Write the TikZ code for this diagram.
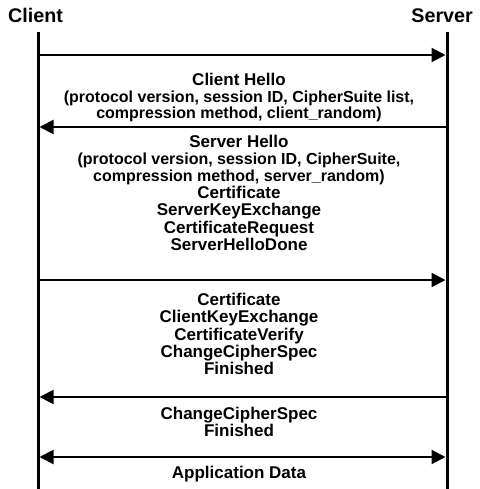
\documentclass[tikz,border=0pt]{standalone}
\usepackage{fontspec}
\setmainfont{Liberation Sans}
\usetikzlibrary{arrows.meta}
\begin{document}
\begin{tikzpicture}[x=1pt,y=-1pt,
  life/.style={line width=3pt},
  msg/.style={line width=2pt,-{Triangle[length=14pt,width=14pt]},shorten >=1.5pt,shorten <=1.5pt},
  msgboth/.style={line width=2pt,{Triangle[length=14pt,width=14pt]}-{Triangle[length=14pt,width=14pt]},shorten >=1.5pt,shorten <=1.5pt},
  msgtext/.style={align=center,font=\bfseries\fontsize{17}{17.4}\selectfont,inner sep=0pt},
  actor/.style={font=\bfseries\fontsize{19.7}{20}\selectfont,inner sep=0pt}]
\newcommand\parfont{\fontsize{16}{16}\selectfont}
\useasboundingbox (0,0) rectangle (479,489);
\node[actor,anchor=west] (client) at (8,15) {Client};
\node[actor,anchor=east] (server) at (473,16) {Server};
\coordinate (ct) at (38,32); \coordinate (cb) at (38,489);
\coordinate (st) at (447,32); \coordinate (sb) at (447,489);
\draw[life] (ct) -- (cb);
\draw[life] (st) -- (sb);
\foreach \i/\y in {1/55,2/127,3/280,4/397,5/457}{
  \coordinate (c\i) at (38,\y);
  \coordinate (s\i) at (447,\y);
}
\draw[msg] (c1) -- (s1);
\draw[msg] (s2) -- (c2);
\draw[msg] (c3) -- (s3);
\draw[msg] (s4) -- (c4);
\draw[msgboth] (c5) -- (s5);
\node[msgtext] (m1) at (239,97.5) {Client Hello\\
{\parfont (protocol version, session ID, CipherSuite list,}\\[-2pt]
{\parfont compression method, client\_random)}};
\node[msgtext] (m2) at (239,193) {Server Hello\\
{\parfont (protocol version, session ID, CipherSuite,}\\[-1pt]
{\parfont compression method, server\_random)}\\
Certificate\\ServerKeyExchange\\CertificateRequest\\ServerHelloDone};
\node[msgtext] (m3) at (239,334) {Certificate\\ClientKeyExchange\\CertificateVerify\\ChangeCipherSpec\\Finished};
\node[msgtext] (m4) at (239,422) {ChangeCipherSpec\\Finished};
\node[msgtext] (m5) at (239,474) {Application Data};
\end{tikzpicture}
\end{document}
